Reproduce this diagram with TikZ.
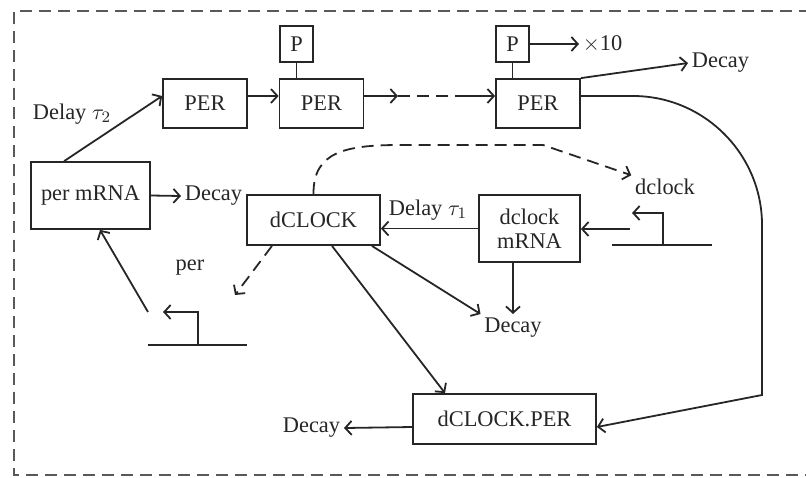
\documentclass[tikz,border=0pt]{standalone}
\usepackage{amsmath}
\usepackage{fontspec}
\setmainfont{Liberation Serif}
\usetikzlibrary{arrows.meta}

\begin{document}
\begin{tikzpicture}[x=0.5pt, y=-0.5pt, >={Straight Barb[length=3.2pt,width=7pt]},
    line width=0.9pt, draw=black!85,
    every node/.style={font=\fontsize{11.2}{13}\selectfont, text=black!85},
    box/.style={draw=black!85, line width=0.9pt, inner sep=0pt, align=center},
    txt/.style={inner sep=1.5pt},
    dsh/.style={dash pattern=on 6pt off 3.5pt}]
    \useasboundingbox (0,0) rectangle (806,477);
    % frame, open on the right
    \draw[black!65, line width=0.9pt, dash pattern=on 6pt off 3.5pt]
        (830,11) -- (14,11) -- (14,475) -- (830,475);

    % PER chain
    \node[box, minimum width=42pt, minimum height=24.5pt] (per1) at (205,103.5) {PER};
    \node[box, minimum width=42pt, minimum height=24.5pt] (per2) at (321.5,103.5) {PER};
    \node[box, minimum width=42pt, minimum height=24.5pt] (per3) at (538,103.5) {PER};
    \node[box, minimum width=16.5pt, minimum height=18pt] (p1) at (296.5,44) {P};
    \node[box, minimum width=16.5pt, minimum height=18pt] (p2) at (512.5,44) {P};
    \node[txt, anchor=west] (x10) at (579,44) {$\times$10};
    \node[txt, anchor=west] (dec1) at (688,63) {Decay};

    % mRNA and proteins
    \node[box, minimum width=59.5pt, minimum height=33.5pt] (pm) at (90.5,195.5) {per mRNA};
    \node[txt] (del2) at (72,114) {Delay $\tau_2$};
    \node[txt, anchor=west] (dec2) at (181,196) {Decay};
    \node[box, minimum width=66.5pt, minimum height=25pt] (dc) at (313.5,220) {dCLOCK};
    \node[box, minimum width=50.5pt, minimum height=33.5pt] (dm) at (529.5,228.5) {dclock\\[-1pt]mRNA};
    \node[txt] (del1) at (428,210) {Delay $\tau_1$};
    \node[txt] (dclk) at (665,187) {dclock};
    \node[txt, anchor=north] (dec3) at (513,314) {Decay};
    \node[txt] (pl) at (190,268) {per};
    \node[box, minimum width=91.5pt, minimum height=25pt] (dcp) at (504.5,419) {dCLOCK.PER};
    \node[txt, anchor=east] (dec4) at (344,428) {Decay};

    % gene symbols
    \coordinate (gper) at (198,345);
    \coordinate (gclk) at (663,245);
    \draw (148,345) -- (247,345);
    \draw[->] (gper) -- ++(0,-33) -- ++(-35,0);
    \draw (612,245) -- (712,245);
    \draw[->] (gclk) -- ++(0,-32) -- ++(-31,0);
    \coordinate (gpert) at (148,312);
    \coordinate (gclkt) at (630,229);
    \coordinate (pertip) at (235,295);

    % connectors
    \draw[->] ([yshift=3.75pt]per1.east) -- ([yshift=3.75pt]per2.west);
    \coordinate (da) at (398,96);
    \coordinate (db) at (457,96);
    \draw[->] ([yshift=3.75pt]per2.east) -- (da);
    \draw[dsh] (da) -- (db);
    \draw[->] (db) -- ([yshift=3.75pt]per3.west);
    \draw (p1.south) -- (p1.south |- per2.north);
    \draw (p2.south) -- (p2.south |- per3.north);
    \draw[->] (p2.east) -- (x10.west);
    \draw[->] (per3.north east) -- (dec1.west);
    \draw[->] ([yshift=3.75pt]per3.east) -- (633,96) .. controls (704,96) and (762,154) .. (762,225)
        -- (762,395) -- ([yshift=-4pt]dcp.east);

    \draw[->] ([xshift=17pt]pm.north west) -- ([yshift=3.75pt]per1.west);
    \draw[->] (pm.east) -- (dec2.west);
    \draw[->] (gpert) -- ([xshift=4.75pt]pm.south);

    \draw[->, dsh] (dc.north) .. controls (313,152) and (345,145) .. (400,145) -- (543,145) -- (dclk.north west);
    \draw[->, dsh] ([xshift=-20.75pt]dc.south) -- (pertip);
    \draw[->] (gclkt) -- (dm.east |- gclkt);
    \draw[->] (dm.west) -- (dc.east |- dm.west);
    \draw[->] ([xshift=-8.25pt]dm.south) -- (dec3.north);
    \draw[->] ([xshift=-4.5pt]dc.south east) -- (dec3.north west);
    \draw[->] ([xshift=9.25pt]dc.south) -- ([xshift=-29.75pt]dcp.north);
    \draw[->] ([yshift=-4pt]dcp.west) -- (dec4.east);
\end{tikzpicture}
\end{document}
